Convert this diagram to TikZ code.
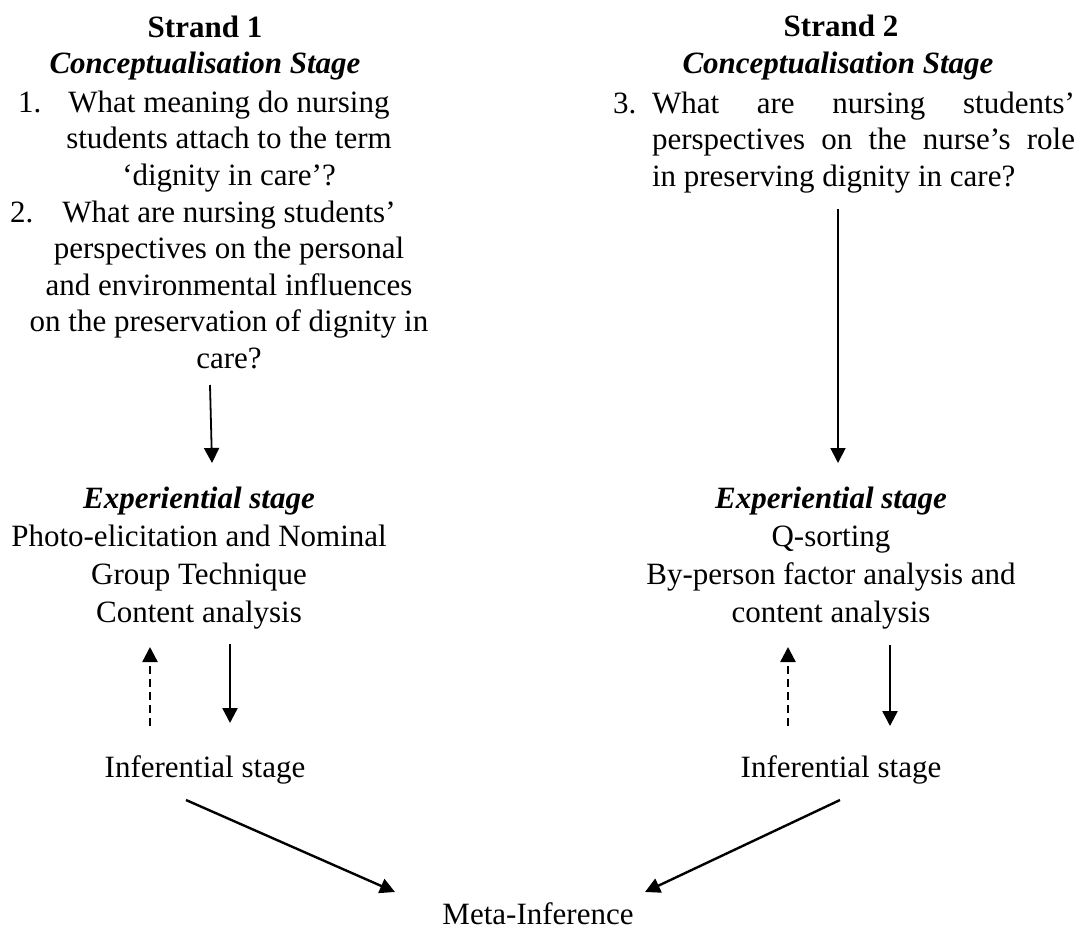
\documentclass[tikz,border=0pt]{standalone}
\usepackage{fontspec}
\setmainfont{Liberation Serif}
\usetikzlibrary{arrows.meta}
\newcommand\msz{\fontsize{31}{36.5}\selectfont}
\begin{document}
\begin{tikzpicture}[x=1pt,y=-1pt,
  txt/.style={inner sep=0pt, outer sep=0pt, anchor=base, font=\msz},
  head/.style={txt, font=\msz\bfseries},
  ihead/.style={txt, font=\msz\bfseries\itshape},
  arrthin/.style={line width=1.8pt, -{Triangle[length=15pt,width=15pt]}},
  arrthick/.style={line width=2.4pt, -{Triangle[length=15pt,width=15pt]}},
  arrdash/.style={arrthick, dash pattern=on 8pt off 5pt}]
\useasboundingbox (0,0) rectangle (1081,932);
% Strand 1 (multi-line nodes: base anchor = baseline of last line)
\node[head] (s1) at (205,37) {Strand 1};
\node[ihead] (c1) at (205,73) {Conceptualisation Stage};
\node[txt, anchor=base west] (n1) at (18,112) {1.};
\node[txt, align=center] (q1) at (229,185) {What meaning do nursing\\students attach to the term\\‘dignity in care’?};
\node[txt, anchor=base west] (n2) at (10,222) {2.};
\node[txt, align=center] (q2) at (229,368) {What are nursing students’\\perspectives on the personal\\and environmental influences\\on the preservation of dignity in\\care?};
% Strand 2
\node[head] (s2) at (841,36) {Strand 2};
\node[ihead] (c2) at (838,73) {Conceptualisation Stage};
\node[txt, anchor=base west] (n3) at (613,113) {3.};
\node[txt, anchor=base west, align=left] (q3) at (652,186) {\makebox[423pt][s]{What are nursing students’}\\\makebox[423pt][s]{perspectives on the nurse’s role}\\in preserving dignity in care?};
% Experiential stages
\node[txt, align=center, font=\fontsize{31}{38}\selectfont] (e1) at (199,622) {{\bfseries\itshape Experiential stage}\\Photo-elicitation and Nominal\\Group Technique\\Content analysis};
\node[txt, align=center, font=\fontsize{31}{38}\selectfont] (e2) at (831,622) {{\bfseries\itshape Experiential stage}\\Q-sorting\\By-person factor analysis and\\content analysis};
% Inferential stages
\node[txt] (i1) at (205,777) {Inferential stage};
\node[txt] (i2) at (841,777) {Inferential stage};
\node[txt] (m) at (538,924) {Meta-Inference};
% connector end points
\coordinate (a1s) at (210,385); \coordinate (a1e) at (212,463);
\coordinate (a2s) at (838,209); \coordinate (a2e) at (838,463);
\coordinate (d1s) at (150,726); \coordinate (d1e) at (150,647);
\coordinate (f1s) at (230,644); \coordinate (f1e) at (230,723);
\coordinate (d2s) at (788,726); \coordinate (d2e) at (788,647);
\coordinate (f2s) at (890,645); \coordinate (f2e) at (890,726);
\coordinate (g1s) at (186,800); \coordinate (g1e) at (395,892);
\coordinate (g2s) at (840,800); \coordinate (g2e) at (645,892);
\draw[arrthin] (a1s) -- (a1e);
\draw[arrthin] (a2s) -- (a2e);
\draw[arrdash] (d1s) -- (d1e);
\draw[arrthick] (f1s) -- (f1e);
\draw[arrdash] (d2s) -- (d2e);
\draw[arrthick] (f2s) -- (f2e);
\draw[arrthick] (g1s) -- (g1e);
\draw[arrthick] (g2s) -- (g2e);
\end{tikzpicture}
\end{document}
